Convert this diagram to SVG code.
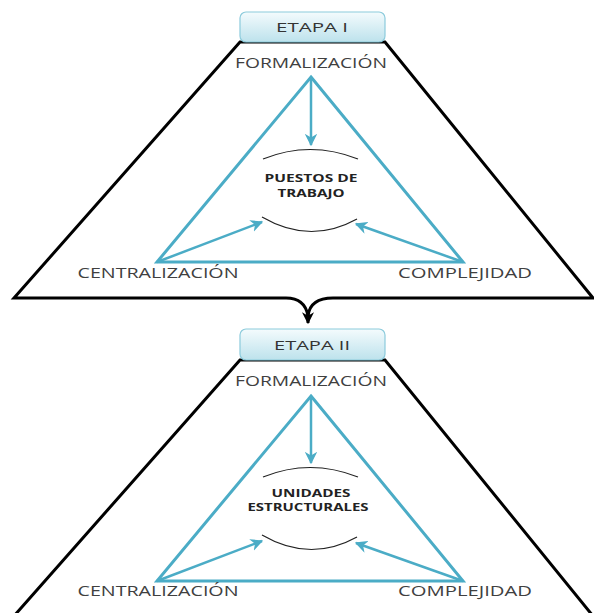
<svg xmlns="http://www.w3.org/2000/svg" width="594" height="613" viewBox="0 0 594 613">
<defs>
<linearGradient id="boxg" x1="0" y1="0" x2="0" y2="1">
<stop offset="0" stop-color="#f4fbfd"/>
<stop offset="1" stop-color="#bde2ec"/>
</linearGradient>
<marker id="ah" viewBox="0 0 10 10" refX="9" refY="5" markerWidth="5" markerHeight="5" orient="auto" markerUnits="strokeWidth">
<path d="M0,0 L10,5 L0,10 L3,5 Z" fill="#4bacc6"/>
</marker>
<marker id="bh" viewBox="0 0 10 10" refX="9" refY="5" markerWidth="4" markerHeight="4" orient="auto" markerUnits="strokeWidth">
<path d="M0,0 L10,5 L0,10 L3,5 Z" fill="#000"/>
</marker>
</defs>
<style>
.trap{fill:none;stroke:#000;stroke-width:3;stroke-linejoin:miter}
.tri{fill:none;stroke:#4bacc6;stroke-width:3;stroke-linejoin:miter}
.arr{fill:none;stroke:#4bacc6;stroke-width:2.5;marker-end:url(#ah)}
.arc{fill:none;stroke:#222;stroke-width:1.2}
.box{fill:url(#boxg);stroke:#8ccbdc;stroke-width:1.2}
.lbl{font-family:"Open Sans","Liberation Sans",sans-serif;font-size:15px;fill:#404040;text-anchor:middle}
.etp{font-family:"Open Sans","Liberation Sans",sans-serif;font-size:13px;fill:#333;text-anchor:middle}
.ctr{font-family:"Open Sans","Liberation Sans",sans-serif;font-size:10px;font-weight:bold;fill:#222;text-anchor:middle}
</style>
<g id="stage1">
<path class="trap" d="M240,42 H385 L593,298 H333 Q310,298 308,316 Q305,298 286,298 H14 Z"/>
<path d="M308,310 L308,323" stroke="#000" stroke-width="3" marker-end="url(#bh)"/>
<g id="etapa1"><rect class="box" x="240" y="12" width="145" height="30" rx="6"/><text class="etp" x="312" y="32" textLength="72" lengthAdjust="spacingAndGlyphs">ETAPA I</text></g>
<polygon class="tri" points="311,77 463,262 157,262"/>
<path class="arr" d="M311,77 V145"/>
<path class="arr" d="M157,262 L262,222"/>
<path class="arr" d="M463,262 L356,224"/>
<path class="arc" d="M263,159 Q310,140 358,159"/>
<path class="arc" d="M262,217 Q310,245 357,219"/>
<g id="formalizacion1"><text class="lbl" x="311" y="68" textLength="152" lengthAdjust="spacingAndGlyphs">FORMALIZACIÓN</text></g>
<g id="centralizacion1"><text class="lbl" x="158" y="278" textLength="161" lengthAdjust="spacingAndGlyphs">CENTRALIZACIÓN</text></g>
<g id="complejidad1"><text class="lbl" x="465" y="278" textLength="134" lengthAdjust="spacingAndGlyphs">COMPLEJIDAD</text></g>
<g id="puestos"><text class="ctr" x="311" y="182" textLength="93" lengthAdjust="spacingAndGlyphs">PUESTOS DE</text><text class="ctr" x="311" y="197" textLength="67" lengthAdjust="spacingAndGlyphs">TRABAJO</text></g>
</g>
<g id="stage2">
<path class="trap" d="M240,360 H385 L593,616 H14 Z"/>
<g id="etapa2"><rect class="box" x="240" y="329" width="145" height="31" rx="6"/><text class="etp" x="312" y="350" textLength="76" lengthAdjust="spacingAndGlyphs">ETAPA II</text></g>
<polygon class="tri" points="311,396 463,581 157,581"/>
<path class="arr" d="M311,396 V463"/>
<path class="arr" d="M157,581 L262,541"/>
<path class="arr" d="M463,581 L356,543"/>
<path class="arc" d="M263,477 Q310,458 358,477"/>
<path class="arc" d="M262,535 Q310,563 357,537"/>
<g id="formalizacion2"><text class="lbl" x="311" y="386" textLength="152" lengthAdjust="spacingAndGlyphs">FORMALIZACIÓN</text></g>
<g id="centralizacion2"><text class="lbl" x="158" y="596" textLength="161" lengthAdjust="spacingAndGlyphs">CENTRALIZACIÓN</text></g>
<g id="complejidad2"><text class="lbl" x="465" y="596" textLength="134" lengthAdjust="spacingAndGlyphs">COMPLEJIDAD</text></g>
<g id="unidades"><text class="ctr" x="311" y="497" textLength="79" lengthAdjust="spacingAndGlyphs">UNIDADES</text><text class="ctr" x="308" y="511" textLength="121" lengthAdjust="spacingAndGlyphs">ESTRUCTURALES</text></g>
</g>
</svg>
